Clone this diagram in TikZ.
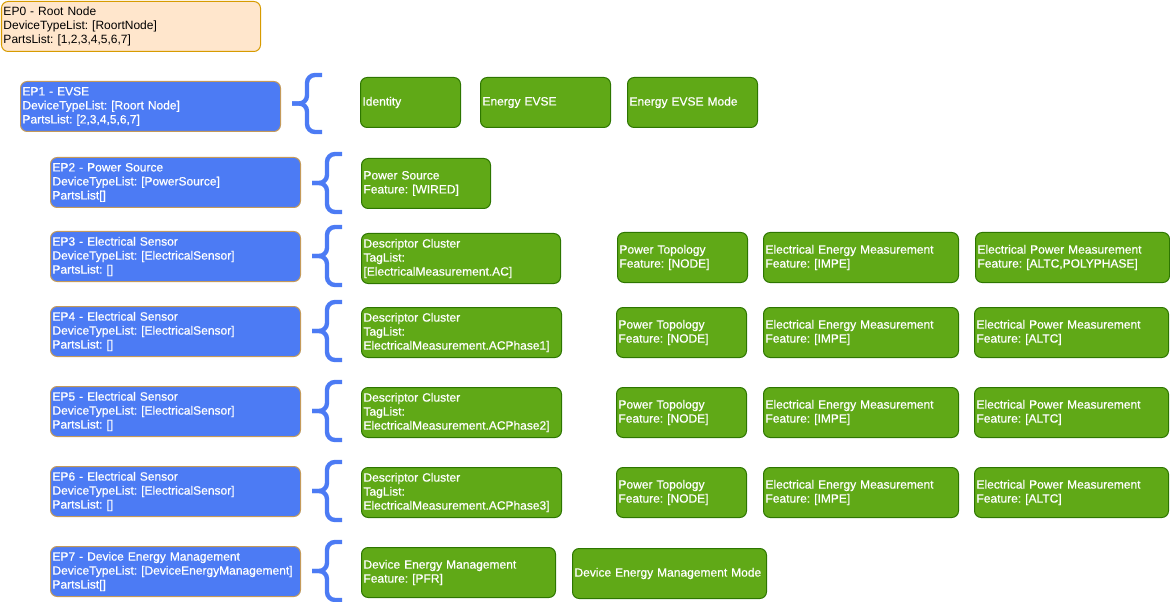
\documentclass[tikz,border=0pt]{standalone}
\usepackage{fontspec}
\setmainfont{Liberation Sans}
\newfontfamily\wfont{Liberation Sans}[FakeBold=0.6]
\frenchspacing
\definecolor{peach}{HTML}{FFE6CC}
\definecolor{peachline}{HTML}{D79B00}
\definecolor{epblue}{HTML}{4C7BF4}
\definecolor{epline}{HTML}{C49A5A}
\definecolor{grn}{HTML}{60A917}
\definecolor{grnline}{HTML}{2D7600}
\tikzset{
  bx/.style={anchor=north west, minimum width={#1*0.75pt}, text width={(#1-4)*0.75pt},
    inner xsep=1.5pt, inner ysep=0pt, minimum height=37.5pt, align=left,
    rounded corners=5pt, line width=0.75pt,
    font=\fontsize{9}{10.5}\selectfont},
  rootbox/.style={bx=#1, fill=peach, draw=peachline, text=black},
  epbox/.style={bx=#1, fill=epblue, draw=epline, text=white, font=\wfont\fontsize{9}{10.5}\selectfont},
  gbox/.style={bx=#1, fill=grn, draw=grnline, text=white, font=\wfont\fontsize{9}{10.5}\selectfont},
  brace/.style={draw=epblue, line width=3.3pt, rounded corners=6pt}
}
% brace: left x, right x, top y, bottom y, name
\newcommand{\mybrace}[5]{%
  \coordinate (#5-t) at (#2,#3);
  \coordinate (#5-b) at (#2,#4);
  \coordinate (#5-m) at (#1,{(#3+#4)/2});
  \draw[brace] (#5-t) -- ({(#1+#2)/2},#3) -- ({(#1+#2)/2},{(#3+#4)/2}) -- (#5-m);
  \draw[brace] (#5-b) -- ({(#1+#2)/2},#4) -- ({(#1+#2)/2},{(#3+#4)/2}) -- (#5-m);
}
\begin{document}
\begin{tikzpicture}[x=0.75pt,y=-0.75pt]
\useasboundingbox (0,0) rectangle (1170,602);
% root
\node[rootbox=259] (ep0) at (1,1) {EP0 - Root Node\\DeviceTypeList: [RoortNode]\\PartsList: [1,2,3,4,5,6,7]};
% endpoints
\node[epbox=260] (ep1) at (20,81) {EP1 - EVSE\\DeviceTypeList: [Roort Node]\\PartsList: [2,3,4,5,6,7]};
\node[epbox=250] (ep2) at (50,157) {EP2 - Power Source\\DeviceTypeList: [PowerSource]\\PartsList[]};
\node[epbox=250] (ep3) at (50,231) {EP3 - Electrical Sensor\\DeviceTypeList: [ElectricalSensor]\\PartsList: []};
\node[epbox=250] (ep4) at (50,306) {EP4 - Electrical Sensor\\DeviceTypeList: [ElectricalSensor]\\PartsList: []};
\node[epbox=250] (ep5) at (50,386) {EP5 - Electrical Sensor\\DeviceTypeList: [ElectricalSensor]\\PartsList: []};
\node[epbox=250] (ep6) at (50,466) {EP6 - Electrical Sensor\\DeviceTypeList: [ElectricalSensor]\\PartsList: []};
\node[epbox=250] (ep7) at (50,546) {EP7 - Device Energy Management\\DeviceTypeList: [DeviceEnergyManagement]\\PartsList[]};
% braces
\mybrace{292}{322}{75}{132}{br1}
\mybrace{312}{342}{154}{212}{br2}
\mybrace{312}{342}{227}{285}{br3}
\mybrace{312}{342}{302}{360}{br4}
\mybrace{312}{342}{382}{440}{br5}
\mybrace{312}{342}{462}{520}{br6}
\mybrace{312}{342}{542}{600}{br7}
% row 1
\node[gbox=100] (id) at (360,77) {Identity};
\node[gbox=130] (ee) at (480,77) {Energy EVSE};
\node[gbox=130] (eem) at (627,77) {Energy EVSE Mode};
% row 2
\node[gbox=129] (ps) at (361,158) {Power Source\\Feature: [WIRED]};
% row 3
\node[gbox=199] (dc3) at (361,233) {Descriptor Cluster\\TagList:\\{[}ElectricalMeasurement.AC]};
\node[gbox=130] (pt3) at (617,232) {Power Topology\\Feature: [NODE]};
\node[gbox=195] (en3) at (763,232) {Electrical Energy Measurement\\Feature: [IMPE]};
\node[gbox=194] (pw3) at (975,232) {Electrical Power Measurement\\Feature: [ALTC,POLYPHASE]};
% row 4
\node[gbox=200] (dc4) at (361,307) {Descriptor Cluster\\TagList:\\ElectricalMeasurement.ACPhase1]};
\node[gbox=130] (pt4) at (616,307) {Power Topology\\Feature: [NODE]};
\node[gbox=195] (en4) at (763,307) {Electrical Energy Measurement\\Feature: [IMPE]};
\node[gbox=194] (pw4) at (974,307) {Electrical Power Measurement\\Feature: [ALTC]};
% row 5
\node[gbox=200] (dc5) at (361,387) {Descriptor Cluster\\TagList:\\ElectricalMeasurement.ACPhase2]};
\node[gbox=130] (pt5) at (616,387) {Power Topology\\Feature: [NODE]};
\node[gbox=195] (en5) at (763,387) {Electrical Energy Measurement\\Feature: [IMPE]};
\node[gbox=194] (pw5) at (974,387) {Electrical Power Measurement\\Feature: [ALTC]};
% row 6
\node[gbox=200] (dc6) at (361,467) {Descriptor Cluster\\TagList:\\ElectricalMeasurement.ACPhase3]};
\node[gbox=130] (pt6) at (616,467) {Power Topology\\Feature: [NODE]};
\node[gbox=195] (en6) at (763,467) {Electrical Energy Measurement\\Feature: [IMPE]};
\node[gbox=194] (pw6) at (974,467) {Electrical Power Measurement\\Feature: [ALTC]};
% row 7
\node[gbox=194] (dem) at (361,547) {Device Energy Management\\Feature: [PFR]};
\node[gbox=194] (demm) at (572,548) {Device Energy Management Mode};
\end{tikzpicture}
\end{document}
